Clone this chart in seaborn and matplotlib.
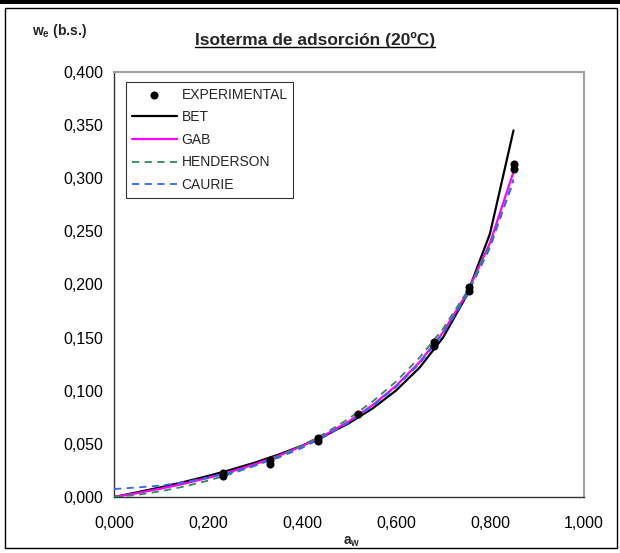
import numpy as np
import pandas as pd
import matplotlib
matplotlib.use("Agg")
import matplotlib.pyplot as plt
from matplotlib.patches import Rectangle
from matplotlib.lines import Line2D
import seaborn as sns

# ---------------- data ----------------
exp_aw = [0.232, 0.232, 0.332, 0.332, 0.433, 0.433, 0.520, 0.681, 0.681, 0.755, 0.755, 0.851, 0.851]
exp_we = [0.020, 0.023, 0.031, 0.035, 0.053, 0.056, 0.078, 0.142, 0.146, 0.194, 0.198, 0.309, 0.313]

model_aw = [0.00, 0.05, 0.10, 0.15, 0.20, 0.25, 0.30, 0.35, 0.40, 0.45,
            0.50, 0.55, 0.60, 0.65, 0.70, 0.75, 0.80, 0.85]
bet_we = [0.0000, 0.0045, 0.0092, 0.0143, 0.0198, 0.0258, 0.0324, 0.0399, 0.0483, 0.0580,
          0.0695, 0.0833, 0.1002, 0.1217, 0.1500, 0.1893, 0.2479, 0.3450]
gab_we = [0.0000, 0.0037, 0.0079, 0.0127, 0.0180, 0.0240, 0.0309, 0.0388, 0.0480, 0.0587,
          0.0713, 0.0864, 0.1046, 0.1269, 0.1550, 0.1912, 0.2392, 0.3060]
henderson_we = [0.0000, 0.0020, 0.0055, 0.0099, 0.0154, 0.0219, 0.0295, 0.0383, 0.0484, 0.0602,
                0.0739, 0.0898, 0.1086, 0.1311, 0.1584, 0.1925, 0.2366, 0.2970]
caurie_we = [0.0075, 0.0090, 0.0108, 0.0140, 0.0182, 0.0232, 0.0295, 0.0370, 0.0462, 0.0572,
             0.0703, 0.0855, 0.1035, 0.1255, 0.1535, 0.1890, 0.2345, 0.2990]

x_ticks = [0.0, 0.2, 0.4, 0.6, 0.8, 1.0]
x_tick_labels = ["0,000", "0,200", "0,400", "0,600", "0,800", "1,000"]
y_ticks = [0.0, 0.05, 0.10, 0.15, 0.20, 0.25, 0.30, 0.35, 0.40]
y_tick_labels = ["0,000", "0,050", "0,100", "0,150", "0,200", "0,250", "0,300", "0,350", "0,400"]

title_text = "Isoterma de adsorción (20ºC)"
ylabel_text = r"w$_\mathbf{e}$ (b.s.)"
xlabel_text = r"a$_\mathbf{w}$"

# ---------------- style ----------------
sns.set_style("white")
plt.rcParams["font.family"] = ["Liberation Sans", "DejaVu Sans"]
plt.rcParams["mathtext.fontset"] = "custom"
plt.rcParams["mathtext.rm"] = "Liberation Sans"
plt.rcParams["mathtext.bf"] = "Liberation Sans:bold"

W, H = 620, 553
fig = plt.figure(figsize=(W / 100, H / 100), dpi=100)
fig.patch.set_facecolor("white")

left, right, top, bottom = 114, 584, 72, 497
ax = fig.add_axes([left / W, 1 - bottom / H, (right - left) / W, (bottom - top) / H])
ax.set_facecolor("white")

models = pd.DataFrame({
    "aw": model_aw,
    "BET": bet_we,
    "GAB": gab_we,
    "HENDERSON": henderson_we,
    "CAURIE": caurie_we,
})
exp_df = pd.DataFrame({"aw": exp_aw, "we": exp_we})

sns.lineplot(data=models, x="aw", y="BET", ax=ax, color="black", lw=1.6,
             label="BET", estimator=None, zorder=3)
sns.lineplot(data=models, x="aw", y="GAB", ax=ax, color="#FF00FF", lw=1.6,
             label="GAB", estimator=None, zorder=3)
sns.lineplot(data=models, x="aw", y="HENDERSON", ax=ax, color="#2E8B57", lw=1.3,
             linestyle=(0, (4, 3)), label="HENDERSON", estimator=None, zorder=3)
sns.lineplot(data=models, x="aw", y="CAURIE", ax=ax, color="#3366FF", lw=1.3,
             linestyle=(0, (4, 3)), label="CAURIE", estimator=None, zorder=3)
sns.scatterplot(data=exp_df, x="aw", y="we", ax=ax, color="black", s=34,
                edgecolor="black", linewidth=0, label="EXPERIMENTAL", zorder=5)

ax.set_xlim(0, 1.0)
ax.set_ylim(0, 0.4)
ax.set_xticks(x_ticks)
ax.set_xticklabels(x_tick_labels)
ax.set_yticks(y_ticks)
ax.set_yticklabels(y_tick_labels)
ax.set_xlabel("")
ax.set_ylabel("")
ax.tick_params(axis="both", which="major", direction="out", length=4, width=0.8,
               color="#333333", labelsize=11.5, labelcolor="black")
ax.tick_params(axis="x", pad=10)
ax.tick_params(axis="y", pad=4)

for side in ["left", "bottom"]:
    ax.spines[side].set_color("#333333")
    ax.spines[side].set_linewidth(1.0)
for side in ["top", "right"]:
    ax.spines[side].set_color("#A0A0A0")
    ax.spines[side].set_linewidth(1.5)
    ax.spines[side].set_visible(True)

handles, labels = ax.get_legend_handles_labels()
order = ["EXPERIMENTAL", "BET", "GAB", "HENDERSON", "CAURIE"]
hmap = dict(zip(labels, handles))
leg = ax.legend([hmap[k] for k in order], order, loc="upper left",
                bbox_to_anchor=((126 - left) / (right - left), (bottom - 82) / (bottom - top)),
                borderaxespad=0, frameon=True, fancybox=False, shadow=False,
                fontsize=10, handlelength=3.3, handletextpad=0.3, labelspacing=0.62,
                borderpad=0.4, scatterpoints=1)
leg.get_frame().set_edgecolor("black")
leg.get_frame().set_linewidth(0.8)

# texts
t = fig.text(315 / W, 1 - 40 / H, title_text, ha="center", va="center",
             fontsize=12.5, fontweight="bold")
fig.text(32 / W, 1 - 31 / H, ylabel_text, ha="left", va="center",
         fontsize=10, fontweight="bold")
fig.text(352 / W, 1 - 542 / H, xlabel_text, ha="center", va="center",
         fontsize=10, fontweight="bold")

# underline title
fig.canvas.draw()
bb = t.get_window_extent()
uy = bb.y0 + 1.5
fig.add_artist(Line2D([bb.x0 / W, bb.x1 / W], [uy / H, uy / H], color="black",
                      lw=1.0, transform=fig.transFigure))

# outer frame
fig.add_artist(Rectangle((0, 1 - 4 / H), 1, 4 / H, transform=fig.transFigure,
                         facecolor="black", edgecolor="none"))
fig.add_artist(Rectangle((5 / W, 1 - 548 / H), 612 / W, 540 / H, transform=fig.transFigure,
                         fill=False, edgecolor="black", lw=1.0))

fig.savefig("out.png", dpi=100, facecolor="white")
